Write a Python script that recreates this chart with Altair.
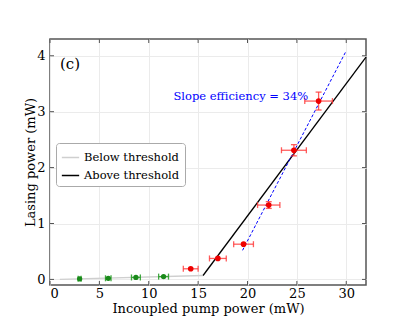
import altair as alt
import pandas as pd

# Below-threshold measurements (green)
below_x = [3.0, 5.9, 8.7, 11.5]
below_y = [0.01, 0.02, 0.035, 0.05]
below_xerr = [0.15, 0.28, 0.45, 0.5]
below_yerr = [0.0, 0.0, 0.0, 0.0]

# Above-threshold measurements (red)
above_x = [14.25, 17.0, 19.6, 22.15, 24.7, 27.2]
above_y = [0.19, 0.375, 0.63, 1.33, 2.31, 3.19]
above_xerr = [0.75, 0.85, 1.0, 1.13, 1.26, 1.4]
above_yerr = [0.02, 0.02, 0.03, 0.06, 0.1, 0.16]

# Fit lines
below_line_x = [1.0, 15.5]
below_line_y = [0.0, 0.07]
above_line_x = [15.5, 32.0]
above_line_y = [0.07, 3.975]
slope_line_x = [19.5, 30.0]
slope_line_y = [0.52, 4.09]

x_ticks = [0, 5, 10, 15, 20, 25, 30]
y_ticks = [0, 1, 2, 3, 4]

FONT = "DejaVu Serif"
W, H = 316, 246
xs = alt.Scale(domain=[0, 32], nice=False, zero=False)
ys = alt.Scale(domain=[-0.1, 4.3], nice=False, zero=False)

def pts(xv, yv, xe, ye):
    return pd.DataFrame({"x": xv, "y": yv,
                         "xlo": [a - b for a, b in zip(xv, xe)],
                         "xhi": [a + b for a, b in zip(xv, xe)],
                         "ylo": [a - b for a, b in zip(yv, ye)],
                         "yhi": [a + b for a, b in zip(yv, ye)]})

dfb = pts(below_x, below_y, below_xerr, below_yerr)
dfa = pts(above_x, above_y, above_xerr, above_yerr)

lines = pd.DataFrame({
    "x": below_line_x + above_line_x,
    "y": below_line_y + above_line_y,
    "series": ["Below threshold"] * 2 + ["Above threshold"] * 2,
})
slope = pd.DataFrame({"x": slope_line_x, "y": slope_line_y})

axis_common = dict(tickSize=0, domain=False, gridColor="#ebebeb", labelFont=FONT,
                   titleFont=FONT, labelColor="black", titleColor="black",
                   titleFontWeight="normal", labelFontSize=13, titleFontSize=13, format="d")
X = alt.X("x:Q", scale=xs, axis=alt.Axis(values=x_ticks, title="Incoupled pump power (mW)",
                                          labelPadding=2, titlePadding=2, **axis_common))
Y = alt.Y("y:Q", scale=ys, axis=alt.Axis(values=y_ticks, title="Lasing power (mW)",
                                          labelPadding=5, titlePadding=-1, **axis_common))

base_lines = alt.Chart(lines).mark_line(strokeWidth=1.3).encode(
    x=X, y=Y,
    color=alt.Color("series:N",
                    scale=alt.Scale(domain=["Below threshold", "Above threshold"],
                                    range=["#cfcfcf", "#000000"]),
                    legend=alt.Legend(title=None, orient="none", legendX=6, legendY=104,
                                      symbolType="stroke", symbolStrokeWidth=1.5,
                                      symbolSize=300, labelFont=FONT, labelFontSize=11.5,
                                      labelColor="black",
                                      strokeColor="#aaaaaa", fillColor="white",
                                      cornerRadius=3, padding=5, rowPadding=3)),
    detail="series:N",
)

slope_line = alt.Chart(slope).mark_line(color="blue", strokeDash=[3, 2], strokeWidth=1).encode(
    x="x:Q", y="y:Q")

def rules(df, col, op):
    h = alt.Chart(df).mark_rule(color=col, opacity=op, strokeWidth=1.3).encode(x="xlo:Q", x2="xhi:Q", y="y:Q")
    v = alt.Chart(df).mark_rule(color=col, opacity=op, strokeWidth=1.3).encode(x="x:Q", y="ylo:Q", y2="yhi:Q")
    c1 = alt.Chart(df).mark_tick(color=col, opacity=op, orient="vertical", size=6, thickness=1.3).encode(x="xlo:Q", y="y:Q")
    c2 = alt.Chart(df).mark_tick(color=col, opacity=op, orient="vertical", size=6, thickness=1.3).encode(x="xhi:Q", y="y:Q")
    return [h, v, c1, c2]

def ycaps(df, col, op):
    d = df[df.yhi - df.ylo > 0.08]
    c3 = alt.Chart(d).mark_tick(color=col, opacity=op, orient="horizontal", size=6, thickness=1.3).encode(x="x:Q", y="ylo:Q")
    c4 = alt.Chart(d).mark_tick(color=col, opacity=op, orient="horizontal", size=6, thickness=1.3).encode(x="x:Q", y="yhi:Q")
    return [c3, c4]

green_err = rules(dfb, "#2ca02c", 0.9)
red_err = rules(dfa, "#ff3333", 0.8) + ycaps(dfa, "#ff3333", 0.8)

green_pts = alt.Chart(dfb).mark_circle(color="#1a8a1a", size=28, opacity=1).encode(x="x:Q", y="y:Q")
red_pts = alt.Chart(dfa).mark_circle(color="#ee0000", size=32, opacity=1).encode(x="x:Q", y="y:Q")

ann = pd.DataFrame({"x": [12.5, 1.0], "y": [3.27, 3.85], "t": ["Slope efficiency = 34%", "(c)"]})
slope_text = alt.Chart(ann.iloc[[0]]).mark_text(align="left", baseline="middle", color="blue",
                                                font=FONT, fontSize=11.5).encode(x="x:Q", y="y:Q", text="t:N")
c_text = alt.Chart(ann.iloc[[1]]).mark_text(align="left", baseline="middle", color="black",
                                            font=FONT, fontSize=15).encode(x="x:Q", y="y:Q", text="t:N")

xt = pd.DataFrame({"v": x_ticks})
yt = pd.DataFrame({"v": y_ticks})
tick_col = "#555555"
ticks = [
    alt.Chart(xt).mark_rule(color=tick_col).encode(x="v:Q", y=alt.value(0), y2=alt.value(4)),
    alt.Chart(xt).mark_rule(color=tick_col).encode(x="v:Q", y=alt.value(H), y2=alt.value(H - 4)),
    alt.Chart(yt).mark_rule(color=tick_col).encode(y="v:Q", x=alt.value(0), x2=alt.value(4)),
    alt.Chart(yt).mark_rule(color=tick_col).encode(y="v:Q", x=alt.value(W), x2=alt.value(W - 4)),
]

chart = alt.layer(
    base_lines, slope_line, *green_err, *red_err, green_pts, red_pts, slope_text, c_text, *ticks
).properties(
    width=W, height=H,
    autosize=alt.AutoSizeParams(type="none"),
    padding={"left": 42, "top": 31, "right": 33, "bottom": 33},
    background="white",
).configure_view(
    stroke="#555555", strokeWidth=1.5
)

chart.save("out.html", embed_options={"renderer": "svg", "actions": False})
